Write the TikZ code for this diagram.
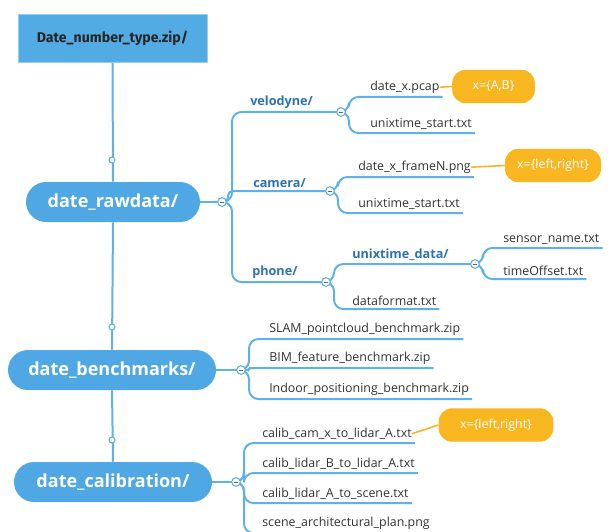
\documentclass[tikz,border=0pt]{standalone}
\usepackage{fontspec}
\setmainfont{Open Sans}
\newfontfamily\topfont{Fira Sans}
\usetikzlibrary{calc}
\pgfdeclarelayer{bg}
\pgfsetlayers{bg,main}
\definecolor{pillblue}{HTML}{4FA8E3}
\definecolor{linkblue}{HTML}{5EB1EA}
\definecolor{labblue}{HTML}{2D72B5}
\definecolor{orng}{HTML}{F8B721}
\definecolor{leaftxt}{HTML}{333333}
\definecolor{topbox}{HTML}{52ABE3}
\begin{document}
\begin{tikzpicture}[x=0.75pt,y=-0.75pt,
 link/.style={draw=linkblue, line width=1.5pt, rounded corners=7pt},
 trunk/.style={draw=linkblue, line width=1.5pt},
 pill/.style={fill=pillblue, rounded corners=15pt, minimum height=30pt, text=white, font=\fontsize{13.5}{15}\selectfont\bfseries, inner sep=0pt},
 toggle/.style={circle, draw=linkblue, fill=white, line width=0.8pt, minimum size=6.5pt, inner sep=0pt,
   path picture={\draw[black!60, line width=0.7pt] ([xshift=-1.6pt]path picture bounding box.center) -- ([xshift=1.6pt]path picture bounding box.center);}},
 dot/.style={circle, draw=linkblue, fill=white, line width=0.8pt, minimum size=4.5pt, inner sep=0pt},
 leaf/.style={anchor=south west, inner xsep=0pt, inner ysep=2.5pt, text=leaftxt, font=\fontsize{9.3}{10}\selectfont},
 folder/.style={leaf, text=labblue, font=\fontsize{9.5}{11}\selectfont\bfseries},
 callout/.style={fill=orng, rounded corners=10pt, text=white, font=\fontsize{9.3}{10}\selectfont, minimum height=25pt, inner sep=0pt},
 note/.style={draw=orng, line width=1.2pt}]
\useasboundingbox (0,0) rectangle (616,531);

% root and main pills
\node[fill=topbox, draw=topbox!60!white, line width=0.6pt, minimum width=141.75pt, minimum height=36pt, inner sep=0pt,
      font=\topfont\bfseries\fontsize{10.6}{12}\selectfont, text=black!85] (root) at (112.5,38) {Date\_number\_type.zip/};
\node[pill, minimum width=130.5pt] (raw) at (113,202) {date\_rawdata/};
\node[pill, minimum width=156pt] (bench) at (112,370) {date\_benchmarks/};
\node[pill, minimum width=148.5pt] (calib) at (113,482) {date\_calibration/};

% trunk dots
\node[dot] (d1) at (112,160) {};
\node[dot] (d2) at (112,327) {};
\node[dot] (d3) at (112,440) {};

% toggles
\node[toggle] (tr) at (222,202) {};
\node[toggle] (tv) at (341,112) {};
\node[toggle] (tc) at (330,191) {};
\node[toggle] (tp) at (326,282) {};
\node[toggle] (tu) at (475,264) {};
\node[toggle] (tb) at (241,370) {};
\node[toggle] (tk) at (236,482) {};

% folder labels
\node[folder] (velo) at (250,112) {velodyne/};
\node[folder] (cam) at (253,191) {camera/};
\node[folder] (phone) at (252,282) {phone/};
\node[folder] (udata) at (352,264) {unixtime\_data/};

% leaves
\node[leaf] (pcap) at (370,97) {date\_x.pcap};
\node[leaf] (vstart) at (370,133) {unixtime\_start.txt};
\node[leaf] (frame) at (358,177) {date\_x\_frameN.png};
\node[leaf] (cstart) at (358,213) {unixtime\_start.txt};
\node[leaf] (dformat) at (352,309) {dataformat.txt};
\node[leaf] (sensor) at (503,248) {sensor\_name.txt};
\node[leaf] (toff) at (503,279) {timeOffset.txt};
\node[leaf] (slam) at (269,339) {SLAM\_pointcloud\_benchmark.zip};
\node[leaf] (bim) at (269,368) {BIM\_feature\_benchmark.zip};
\node[leaf] (indoor) at (269,399) {Indoor\_positioning\_benchmark.zip};
\node[leaf] (cc) at (262,443) {calib\_cam\_x\_to\_lidar\_A.txt};
\node[leaf] (lb) at (262,473) {calib\_lidar\_B\_to\_lidar\_A.txt};
\node[leaf] (la) at (262,503) {calib\_lidar\_A\_to\_scene.txt};
\node[leaf] (plan) at (262,533) {scene\_architectural\_plan.png};

% callouts
\node[callout, minimum width=62pt] (cab) at (493.5,86.5) {x=\{A,B\}};
\node[callout, minimum width=72pt] (ccam) at (553,165.5) {x=\{left,right\}};
\node[callout, minimum width=86pt] (ccal) at (496,425) {x=\{left,right\}};

\begin{pgfonlayer}{bg}
% trunk
\draw[trunk] (root.south) -- (raw.north);
\draw[trunk] (raw.south) -- (bench.north);
\draw[trunk] (bench.south) -- (calib.north);
\draw[trunk] (raw.east) -- (tr.center);
\draw[trunk] (bench.east) -- (tb.center);
\draw[trunk] (calib.east) -- (tk.center);

% rawdata branches
\draw[link] (tr.center) -- ++(10,0) |- (tv.center);
\draw[link, rounded corners=3.5pt] (tr.center) -- ++(6,0) |- (tc.center);
\draw[link] (tr.center) -- ++(10,0) |- (tp.center);

% velodyne
\draw[link] (tv.center) -- ++(8,0) |- ($(pcap.south east)+(3,0)$);
\draw[link] (tv.center) -- ++(8,0) |- ($(vstart.south east)+(3,0)$);
% camera
\draw[link] (tc.center) -- ++(8,0) |- ($(frame.south east)+(3,0)$);
\draw[link] (tc.center) -- ++(8,0) |- ($(cstart.south east)+(3,0)$);
% phone
\draw[link] (tp.center) -- ++(8,0) |- (tu.center);
\draw[link] (tp.center) -- ++(8,0) |- ($(dformat.south east)+(3,0)$);
% unixtime_data
\draw[link] (tu.center) -- ++(8,0) |- ($(sensor.south east)+(3,0)$);
\draw[link] (tu.center) -- ++(8,0) |- ($(toff.south east)+(3,0)$);
% benchmarks
\draw[link] (tb.center) -- ++(8,0) |- ($(slam.south east)+(3,0)$);
\draw[link, rounded corners=1pt] (tb.center) -- ++(8,0) |- ($(bim.south east)+(3,0)$);
\draw[link] (tb.center) -- ++(8,0) |- ($(indoor.south east)+(3,0)$);
% calibration
\draw[link] (tk.center) -- ++(8,0) |- ($(cc.south east)+(3,0)$);
\draw[link] (tk.center) -- ++(8,0) |- ($(lb.south east)+(3,0)$);
\draw[link] (tk.center) -- ++(8,0) |- ($(la.south east)+(3,0)$);
\draw[link] (tk.center) -- ++(8,0) |- ($(plan.south east)+(3,0)$);

% callout connectors
\draw[note] (pcap.east) -- (cab.west);
\draw[note] (frame.east) -- (ccam.west);
\draw[note] (cc.east) -- (ccal.west);
\end{pgfonlayer}
\end{tikzpicture}
\end{document}
